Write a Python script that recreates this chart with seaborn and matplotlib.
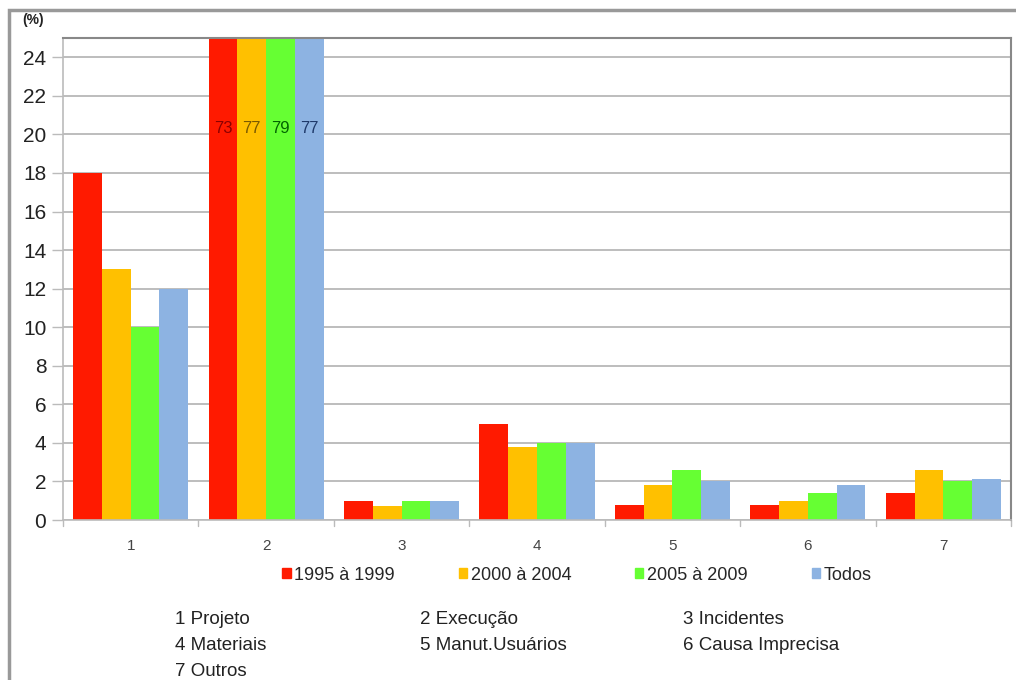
import matplotlib
matplotlib.use("Agg")
import matplotlib.pyplot as plt
import matplotlib.patches as mpatches
import seaborn as sns
import pandas as pd

# Data: share of pathologies by cause (%), per period
categories = ["1", "2", "3", "4", "5", "6", "7"]
periods = ["1995 à 1999", "2000 à 2004", "2005 à 2009", "Todos"]
v_1995_1999 = [18, 73, 1.0, 5.0, 0.8, 0.8, 1.4]
v_2000_2004 = [13, 77, 0.75, 3.8, 1.8, 1.0, 2.6]
v_2005_2009 = [10, 79, 1.0, 4.0, 2.6, 1.4, 2.0]
v_todos = [12, 77, 1.0, 4.0, 2.0, 1.8, 2.15]
cause_names = ["1 Projeto", "2 Execução", "3 Incidentes",
               "4 Materiais", "5 Manut.Usuários", "6 Causa Imprecisa",
               "7 Outros"]
y_ticks = list(range(0, 25, 2))

colors = ["#FF1A00", "#FFC000", "#66FF33", "#8DB3E2"]
label_colors = ["#8B0000", "#7A5A00", "#006400", "#1F3A6B"]

sns.set_theme(style="white")
plt.rcParams["font.family"] = ["Liberation Sans", "DejaVu Sans"]

series = [v_1995_1999, v_2000_2004, v_2005_2009, v_todos]
rows = []
for per, vals in zip(periods, series):
    for c, v in zip(categories, vals):
        rows.append({"cat": c, "period": per, "value": v})
df = pd.DataFrame(rows)

fig = plt.figure(figsize=(10.16, 6.8), dpi=100)
ax = fig.add_axes([63 / 1016, 1 - 520 / 680, (1011 - 63) / 1016, (520 - 38) / 680])

sns.barplot(data=df, x="cat", y="value", hue="period", hue_order=periods,
            order=categories, palette=colors, width=0.85, saturation=1,
            linewidth=0, ax=ax, legend=False)

ax.set_ylim(0, 25)
ax.set_xlim(-0.5, len(categories) - 0.5)
ax.set_yticks(y_ticks)
ax.set_yticklabels([str(t) for t in y_ticks], fontsize=15, color="#222222")
ax.set_xticks(range(len(categories)))
ax.set_xticklabels(categories, fontsize=11, color="#444444")
ax.tick_params(axis="x", length=0, pad=14)
ax.tick_params(axis="y", length=8, width=1, color="#BBBBBB", pad=4, left=True)
ax.set_xlabel("")
ax.set_ylabel("")

ax.yaxis.grid(True, color="#B8B8B8", linewidth=1.3)
ax.set_axisbelow(True)
for side in ["top", "right"]:
    ax.spines[side].set_color("#888888")
    ax.spines[side].set_linewidth(1.5)
ax.spines["left"].set_color("#BBBBBB")
ax.spines["left"].set_linewidth(1.2)
ax.spines["bottom"].set_color("#BBBBBB")
ax.spines["bottom"].set_linewidth(1.2)

# small separators between categories on the x axis
for i in range(len(categories) + 1):
    ax.plot([i - 0.5, i - 0.5], [0, -0.3], color="#BBBBBB", lw=1,
            clip_on=False)

# Values of the clipped bars in category 2
for cont, vals, lc in zip(ax.containers, series, label_colors):
    bar = cont[1]
    ax.text(bar.get_x() + bar.get_width() / 2, 20.3, f"{vals[1]:g}",
            ha="center", va="center", fontsize=12, color=lc)

fig.text(22 / 1016, 1 - 20 / 680, "(%)", fontsize=10, color="#222222",
         ha="left", va="center", fontweight="bold")

# Legend
handles = [mpatches.Patch(color=c, label=p) for c, p in zip(colors, periods)]
fig.legend(handles=handles, loc="center", bbox_to_anchor=(577 / 1016, 1 - 575 / 680),
           ncol=4, frameon=False, fontsize=13, handlelength=0.45, handleheight=0.45,
           handletextpad=0.2, columnspacing=3.55)

# Cause key below the legend
col_x = [175, 420, 683]
row_y = [619, 646, 671]
for i, name in enumerate(cause_names):
    r, c = divmod(i, 3)
    fig.text(col_x[c] / 1016, 1 - row_y[r] / 680, name, fontsize=13.5,
             color="#222222", ha="left", va="center")

# Outer chart frame
fig.patches.append(mpatches.Rectangle((9 / 1016, -0.2), 1.2, 1 - 10 / 680 + 0.2,
                                      transform=fig.transFigure, fill=False,
                                      edgecolor="#999999", linewidth=2.5))

fig.savefig("out.png", dpi=100)
